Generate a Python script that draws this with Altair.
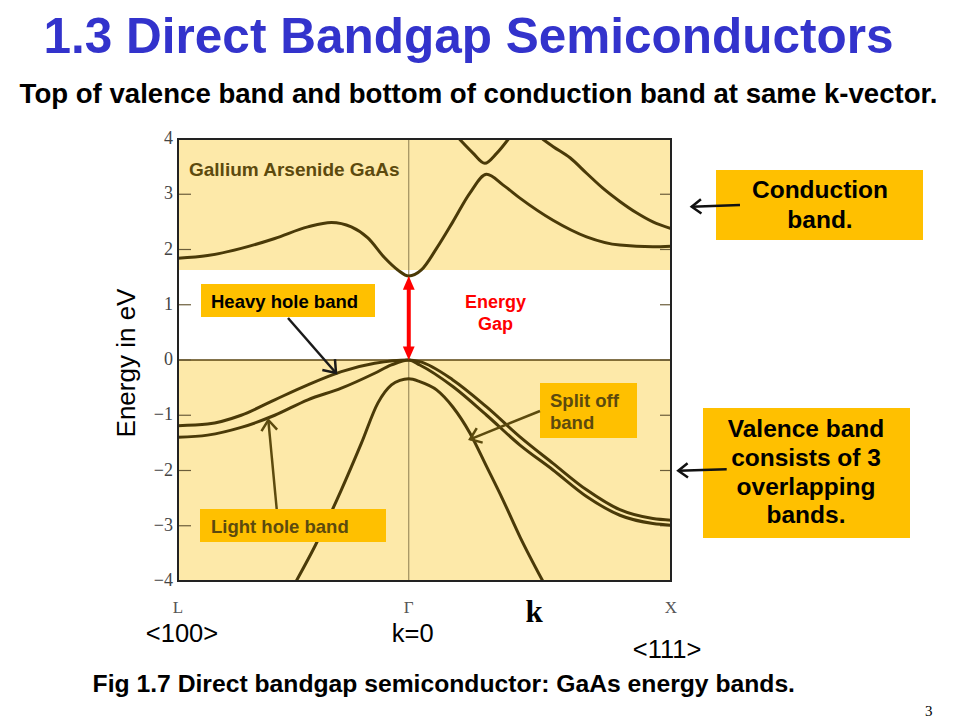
import math
import altair as alt
import pandas as pd

# ---------------- data ----------------
K_L, K_GAMMA, K_X = -0.88, 0.0, 1.0
kpoint_k = [K_L, K_GAMMA, K_X]
kpoint_names = ["L", "Γ", "X"]
direction_names = ["<100>", "k=0", "<111>"]

E_MIN, E_MAX = -4, 4
energy_ticks = [-4, -3, -2, -1, 0, 1, 2, 3, 4]
inner_ticks = [-3, -2, -1, 0, 1, 2, 3]
E_GAP = 1.52
E_CB_SHADE = 1.63
E_VB_TOP = 0.0

cb1_k = [-0.88, -0.767, -0.639, -0.511, -0.385, -0.295, -0.219, -0.156, -0.092, -0.042, 0.0,
         0.048, 0.106, 0.168, 0.233, 0.297, 0.359, 0.424, 0.55, 0.678, 0.805, 0.931, 1.0]
cb1_E = [1.84, 1.89, 2.02, 2.20, 2.41, 2.49, 2.41, 2.21, 1.85, 1.63, 1.52,
         1.63, 2.02, 2.50, 3.02, 3.36, 3.17, 2.93, 2.53, 2.23, 2.08, 2.05, 2.06]

cb2_k = [0.193, 0.244, 0.290, 0.335, 0.38]
cb2_E = [4.0, 3.75, 3.56, 3.74, 4.0]

cb3_k = [0.51, 0.551, 0.615, 0.678, 0.740, 0.805, 0.870, 0.931, 1.0]
cb3_E = [4.0, 3.86, 3.66, 3.38, 3.11, 2.87, 2.66, 2.50, 2.38]

hh_k = [-0.88, -0.767, -0.639, -0.511, -0.385, -0.257, -0.130, 0.0,
        0.042, 0.168, 0.297, 0.424, 0.55, 0.678, 0.805, 0.931, 1.0]
hh_E = [-1.19, -1.16, -1.00, -0.72, -0.45, -0.21, -0.06, 0.0,
        -0.03, -0.36, -0.85, -1.39, -1.87, -2.35, -2.71, -2.87, -2.90]

lh_k = [-0.88, -0.767, -0.639, -0.511, -0.385, -0.257, -0.130, -0.066, 0.0,
        0.042, 0.168, 0.297, 0.424, 0.55, 0.678, 0.805, 0.931, 1.0]
lh_E = [-1.40, -1.36, -1.22, -1.00, -0.72, -0.51, -0.24, -0.09, 0.0,
        -0.09, -0.48, -1.00, -1.54, -1.99, -2.47, -2.81, -2.96, -2.99]

so_k = [-0.429, -0.359, -0.257, -0.181, -0.118, -0.066, -0.034, 0.0,
        0.042, 0.106, 0.168, 0.233, 0.297, 0.359, 0.424, 0.511]
so_E = [-4.0, -3.38, -2.35, -1.51, -0.78, -0.45, -0.37, -0.34,
        -0.39, -0.54, -0.85, -1.32, -1.93, -2.53, -3.20, -4.0]

# ---------------- tables ----------------
rows = []
for name, ks, es in [("cb1", cb1_k, cb1_E), ("cb2", cb2_k, cb2_E), ("cb3", cb3_k, cb3_E),
                     ("hh", hh_k, hh_E), ("lh", lh_k, lh_E), ("so", so_k, so_E)]:
    for k, e in zip(ks, es):
        rows.append({"band": name, "k": k, "E": e})
bands = pd.DataFrame(rows)

shade = pd.DataFrame({"k": [K_L, K_L], "k2": [K_X, K_X],
                      "E": [E_CB_SHADE, E_MIN], "E2": [E_MAX, E_VB_TOP]})
frame = pd.DataFrame({"k": [K_L], "k2": [K_X], "E": [E_MIN], "E2": [E_MAX]})
ticks = pd.DataFrame({"E": inner_ticks})
tick_labels = pd.DataFrame({"E": energy_ticks})
kp = pd.DataFrame({"k": kpoint_k, "name": kpoint_names, "dir": direction_names})
one = pd.DataFrame({"_": [0]})

W, H = 493, 442
SANS = "Liberation Sans"
SERIF = "Liberation Serif"
BROWN = "#4A3A08"
TXT_BROWN = "#5C4A0E"
BOX = "#FFC000"

xs = alt.Scale(domain=[K_L, K_X], nice=False, zero=False)
ys = alt.Scale(domain=[E_MIN, E_MAX], nice=False, zero=False)

layers = []

# shaded regions
layers.append(alt.Chart(shade).mark_rect(color="#FDE9A9").encode(
    x=alt.X("k:Q", scale=xs, axis=None), x2="k2",
    y=alt.Y("E:Q", scale=ys, axis=None), y2="E2"))

# energy tick labels (left)
layers.append(alt.Chart(tick_labels).mark_text(font=SERIF, fontSize=18, color="#444",
                                               align="right", baseline="middle").encode(
    y=alt.Y("E:Q", scale=ys, axis=None), x=alt.value(-5), text=alt.Text("E:Q", format="d")))

# Gamma vertical line and E=0 line
layers.append(alt.Chart(pd.DataFrame({"k": [K_GAMMA]})).mark_rule(color="#8C7C50", strokeWidth=1).encode(
    x=alt.X("k:Q", scale=xs, axis=None), y=alt.value(0), y2=alt.value(H)))
layers.append(alt.Chart(pd.DataFrame({"E": [E_VB_TOP]})).mark_rule(color="#5A4510", strokeWidth=1.3).encode(
    y=alt.Y("E:Q", scale=ys, axis=None), x=alt.value(0), x2=alt.value(W)))

# inner ticks left and right
layers.append(alt.Chart(ticks).mark_rule(color="#6B5D3A", strokeWidth=1.2).encode(
    y=alt.Y("E:Q", scale=ys, axis=None), x=alt.value(0), x2=alt.value(13)))
layers.append(alt.Chart(ticks).mark_rule(color="#6B5D3A", strokeWidth=1.2).encode(
    y=alt.Y("E:Q", scale=ys, axis=None), x=alt.value(W - 11), x2=alt.value(W)))

# bands
layers.append(alt.Chart(bands).mark_line(color=BROWN, strokeWidth=3, interpolate="monotone", clip=True).encode(
    x=alt.X("k:Q", scale=xs, axis=None), y=alt.Y("E:Q", scale=ys, axis=None), detail="band:N", order="k:Q"))

# frame
layers.append(alt.Chart(frame).mark_rect(fillOpacity=0, stroke="#222", strokeWidth=2).encode(
    x=alt.X("k:Q", scale=xs, axis=None), x2="k2", y=alt.Y("E:Q", scale=ys, axis=None), y2="E2"))

# k-point labels
layers.append(alt.Chart(kp).mark_text(font=SERIF, fontSize=17, color="#555", baseline="alphabetic").encode(
    x=alt.X("k:Q", scale=xs, axis=None), y=alt.value(474), text="name:N"))
dir_y = [503, 503, 519]
for i in range(3):
    layers.append(alt.Chart(kp.iloc[[i]]).mark_text(font=SANS, fontSize=25.5, color="black", baseline="alphabetic").encode(
        x=alt.X("k:Q", scale=xs, axis=None), y=alt.value(dir_y[i]), text="dir:N",
        xOffset=alt.value([4, 4, -4][i])))


def text_at(txt, cx, cy, size, color="black", weight="bold", font=SANS, align="left",
            baseline="alphabetic", angle=None):
    kw = dict(text=txt, fontSize=size, color=color, fontWeight=weight, font=font,
              align=align, baseline=baseline)
    if angle is not None:
        kw["angle"] = angle
    return alt.Chart(one).mark_text(**kw).encode(x=alt.value(cx), y=alt.value(cy))


def box(x0, y0, x1, y1):
    return alt.Chart(one).mark_rect(color=BOX).encode(
        x=alt.value(x0), x2=alt.value(x1), y=alt.value(y0), y2=alt.value(y1))


CHEVRON = "M-0.75,1L0,0L0.75,1"
TRI = "M0,0L-0.5,1.15L0.5,1.15Z"


def arrow(x0, y0, x1, y1, color, width=2.5, head=460):
    ang = math.degrees(math.atan2(x1 - x0, -(y1 - y0))) % 360
    shaft = alt.Chart(one).mark_rule(color=color, strokeWidth=width).encode(
        x=alt.value(x0), y=alt.value(y0), x2=alt.value(x1), y2=alt.value(y1))
    tip = alt.Chart(one).mark_point(shape=CHEVRON, size=head, filled=False, strokeWidth=width,
                                    color=color, opacity=1, angle=ang).encode(
        x=alt.value(x1), y=alt.value(y1))
    return [shaft, tip]


# red energy-gap double arrow (data anchored)
gap = pd.DataFrame({"k": [K_GAMMA], "lo": [E_VB_TOP + 0.2], "hi": [E_GAP - 0.2]})
layers.append(alt.Chart(gap).mark_rule(color="#FF0000", strokeWidth=4).encode(
    x=alt.X("k:Q", scale=xs, axis=None), y=alt.Y("lo:Q", scale=ys, axis=None), y2="hi"))
layers.append(alt.Chart(pd.DataFrame({"k": [K_GAMMA], "E": [E_GAP]})).mark_point(
    shape=TRI, size=560, filled=True, color="#FF0000", opacity=1, angle=0).encode(
    x=alt.X("k:Q", scale=xs, axis=None), y=alt.Y("E:Q", scale=ys, axis=None)))
layers.append(alt.Chart(pd.DataFrame({"k": [K_GAMMA], "E": [E_VB_TOP]})).mark_point(
    shape=TRI, size=560, filled=True, color="#FF0000", opacity=1, angle=180).encode(
    x=alt.X("k:Q", scale=xs, axis=None), y=alt.Y("E:Q", scale=ys, axis=None)))

# in-plot labels
layers.append(text_at("Gallium Arsenide GaAs", 11, 36.7, 19, color=TXT_BROWN))
layers.append(text_at("Energy", 317.5, 169.3, 18, color="#FF0000", align="center"))
layers.append(text_at("Gap", 317.5, 191, 18, color="#FF0000", align="center"))

layers.append(box(23, 145, 197, 178))
layers.append(text_at("Heavy hole band", 33, 168.7, 18.5))
layers += arrow(110, 179, 158, 234, "#1A1A1A", width=2.5, head=500)

layers.append(box(22, 370, 208, 403))
layers.append(text_at("Light hole band", 33, 393.7, 18.5, color=TXT_BROWN))
layers += arrow(98.7, 370, 90.3, 281, TXT_BROWN, width=2.5, head=440)

layers.append(box(362, 244, 459, 299))
layers.append(text_at("Split off", 372, 268.3, 18.5, color=TXT_BROWN))
layers.append(text_at("band", 372, 290, 18.5, color=TXT_BROWN))
layers += arrow(362, 272, 292, 300.3, TXT_BROWN, width=2.5, head=440)

# right-hand boxes
layers.append(box(538, 31, 745, 101))
layers.append(text_at("Conduction", 642, 59, 24.5, align="center"))
layers.append(text_at("band.", 642, 89, 24.5, align="center"))
layers += arrow(562, 66, 513.7, 67.7, "#111", width=2.5, head=360)

layers.append(box(525, 269, 732, 399))
for i, line in enumerate(["Valence band", "consists of 3", "overlapping", "bands."]):
    layers.append(text_at(line, 628, 298.3 + 28.7 * i, 24.5, align="center"))
layers += arrow(548.7, 330.3, 500.3, 331.7, "#111", width=2.5, head=360)

# titles and captions
layers.append(text_at("1.3 Direct Bandgap Semiconductors", 290.5, -85.7, 49.5, color="#3333CC", align="center"))
layers.append(text_at("Top of valence band and bottom of conduction band at same k-vector.",
                      300.5, -35.7, 27.6, align="center"))
layers.append(text_at("Fig 1.7 Direct bandgap semiconductor: GaAs energy bands.", -85.4, 553, 24.7))
layers.append(text_at("3", 747, 577, 15, weight="normal", font=SERIF))
layers.append(text_at("Energy in eV", -51, 224, 26, weight="normal", align="center",
                      baseline="middle", angle=270))
layers.append(text_at("k", 356, 483, 31, font=SERIF, align="center"))

chart = alt.layer(*layers).properties(
    width=W, height=H,
    padding={"left": 170, "top": 131, "right": 277, "bottom": 138},
    autosize=alt.AutoSizeParams(type="none"),
    background="white",
).configure_view(stroke=None)

chart.save("out.html", embed_options={"renderer": "svg", "actions": False})
